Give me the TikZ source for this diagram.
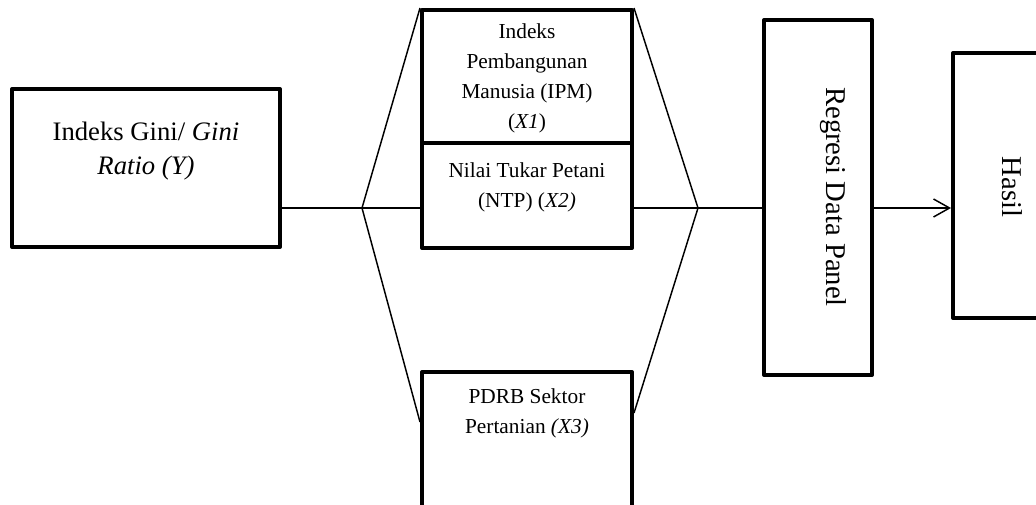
\documentclass[tikz,border=0pt]{standalone}
\usepackage{fontspec}
\setmainfont{Liberation Serif}
\usetikzlibrary{fit,arrows.meta}
\begin{document}
\begin{tikzpicture}[x=0.75pt,y=-0.75pt,
  box/.style={draw,line width=3pt,line join=round,inner sep=0pt,rectangle},
  conn/.style={line width=1.1pt},
  big/.style={font=\fontsize{20pt}{25pt}\selectfont,align=center},
  small/.style={font=\fontsize{16pt}{22.5pt}\selectfont,align=center},
  vert/.style={font=\fontsize{21.5pt}{26pt}\selectfont,rotate=-90}]
\useasboundingbox (0,0) rectangle (1036,504);
\clip (0,0) rectangle (1036,504);
% boxes
\node[box,fit={(12,89)(280,247)}] (gini) {};
\node[box,fit={(422,10)(632,143)}] (ipm) {};
\node[box,fit={(422,143)(632,248)}] (ntp) {};
\node[box,fit={(422,372)(632,530)}] (pdrb) {};
\node[box,fit={(764,20)(872,375)}] (reg) {};
\node[box,fit={(953,53)(1080,318)}] (hasil) {};
% texts
\node[big] (tgini) at (146,151) {Indeks Gini/ \textit{Gini}\\\textit{Ratio (Y)}};
\node[small] (tipm) at (527,78) {Indeks\\Pembangunan\\Manusia (IPM)\\(\textit{X1})};
\node[small] (tntp) at (527,187) {Nilai Tukar Petani\\(NTP) (\textit{X2)}};
\node[small] (tpdrb) at (527,413) {PDRB Sektor\\Pertanian \textit{(X3)}};
\node[vert] (treg) at (833,197) {Regresi Data Panel};
\node[vert] (thasil) at (1012,187) {Hasil};
% fan points
\coordinate (fl) at (362,208);
\coordinate (fr) at (698,208);
\coordinate (pl) at (422,422);
\coordinate (pr) at (632,413);
% connectors
\draw[conn] (gini.east |- fl) -- (fl);
\draw[conn] (fl) -- (ipm.north west);
\draw[conn] (fl) -- (ntp.west |- fl);
\draw[conn] (fl) -- (pdrb.west |- pl);
\draw[conn] (ipm.north east) -- (fr);
\draw[conn] (ntp.east |- fr) -- (fr);
\draw[conn] (pdrb.east |- pr) -- (fr);
\draw[conn] (fr) -- (reg.west |- fr);
\draw[conn,-{Straight Barb[length=12pt,width=13.5pt]}] (reg.east |- fr) -- (hasil.west |- fr);
\end{tikzpicture}
\end{document}
